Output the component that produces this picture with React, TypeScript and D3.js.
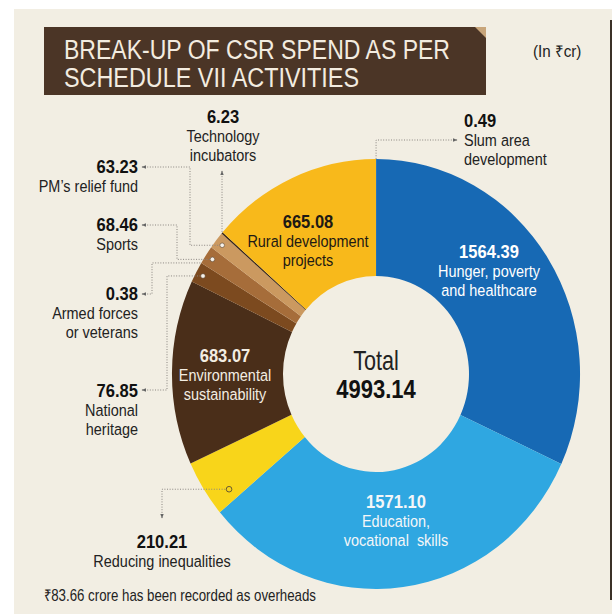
import * as d3 from "d3";
import React from "react";

// Schedule VII activity categories, clockwise from 12 o'clock
const categories = [
  "Slum area development",
  "Hunger, poverty and healthcare",
  "Education, vocational skills",
  "Reducing inequalities",
  "Environmental sustainability",
  "National heritage",
  "Armed forces or veterans",
  "Sports",
  "PM's relief fund",
  "Technology incubators",
  "Rural development projects",
];
const values = [0.49, 1564.39, 1571.1, 210.21, 683.07, 76.85, 0.38, 68.46, 63.23, 6.23, 665.08];
const valueLabels = ["0.49", "1564.39", "1571.10", "210.21", "683.07", "76.85", "0.38", "68.46", "63.23", "6.23", "665.08"];
const labelLines = [
  ["Slum area", "development"],
  ["Hunger, poverty", "and healthcare"],
  ["Education,", "vocational  skills"],
  ["Reducing inequalities"],
  ["Environmental", "sustainability"],
  ["National", "heritage"],
  ["Armed forces", "or veterans"],
  ["Sports"],
  ["PM\u2019s relief fund"],
  ["Technology", "incubators"],
  ["Rural development", "projects"],
];
const sliceColors = [
  "#1769b4", "#1769b4", "#2fa7e1", "#f8d51a", "#4a2e19", "#7c4a1f",
  "#7c4a1f", "#a66d3a", "#cb9960", "#3a2616", "#f8b91b",
];
const titleLines = ["BREAK-UP OF CSR SPEND AS PER", "SCHEDULE VII ACTIVITIES"];
const unitLabel = "(In \u20b9cr)";
const totalCaption = "Total";
const totalValue = "4993.14";
const overheadNote = "\u20b983.66 crore has been recorded as overheads";

const NUM = "'Liberation Sans', Arial, sans-serif";
const LAB = "'Liberation Sans', Arial, sans-serif";

const cx = 376;
const cy = 374;
const outerR = 215;
const innerR = 98;
const squeeze = 0.949; // donut is slightly narrower than tall

type Anchor = "start" | "middle" | "end";

// text squeezed horizontally, the source typeface is a condensed one
function T({
  anchor = "start",
  children,
  fill = "#222",
  k = 0.85,
  size = 17,
  weight = 400,
  x,
  y,
}: {
  anchor?: Anchor;
  children: React.ReactNode;
  fill?: string;
  k?: number;
  size?: number;
  weight?: number;
  x: number;
  y: number;
}) {
  return (
    <text
      fill={fill}
      fontFamily={weight > 400 ? NUM : LAB}
      fontSize={size}
      fontWeight={weight}
      textAnchor={anchor}
      transform={`translate(${x},${y}) scale(${k},1)`}
      style={{ whiteSpace: "pre" }}
    >
      {children}
    </text>
  );
}

export default function App(): React.ReactElement {
  const pie = d3
    .pie<number>()
    .sort(null)
    .value((d) => d)
    .startAngle(0)
    .endAngle(2 * Math.PI);
  const slices = pie(values);
  const arc = d3.arc<d3.PieArcDatum<number>>().innerRadius(innerR).outerRadius(outerR);

  const polar = (angle: number, radius: number): [number, number] => [
    cx + Math.sin(angle) * radius * squeeze,
    cy - Math.cos(angle) * radius,
  ];
  const at = (i: number, f: number) => slices[i].startAngle + f * (slices[i].endAngle - slices[i].startAngle);

  // leader targets
  const slumEdge = polar(at(0, 0.5), outerR);
  const techEdge = polar(at(9, 0.5), outerR);
  const pmDot = polar(at(8, 0.5), 207);
  const sportsDot = polar(at(7, 0.5), 207);
  const armedEdge = polar(at(6, 0.5), outerR);
  const heritageDot = polar(at(5, 0.5), 207);
  const ineqDot = polar(at(3, 0.22), 193);

  const leaders = [
    `M457,140H${slumEdge[0]}V${slumEdge[1]}`,
    `M${techEdge[0]},171V${techEdge[1]}`,
    `M142,167H190V${pmDot[1]}H${pmDot[0]}`,
    `M142,225H177V${sportsDot[1]}H${sportsDot[0]}`,
    `M142,294H152V${armedEdge[1]}H${armedEdge[0]}`,
    `M142,390H167V${heritageDot[1]}H${heritageDot[0]}`,
    `M162,518V${ineqDot[1]}H${ineqDot[0]}`,
  ];

  // outside label blocks: [slice index, x, number baseline, anchor]
  const outside: [number, number, number, Anchor][] = [
    [0, 464, 127, "start"],
    [9, 223, 123, "middle"],
    [8, 138, 173, "end"],
    [7, 138, 231, "end"],
    [6, 138, 300, "end"],
    [5, 138, 397, "end"],
    [3, 162, 548, "middle"],
  ];
  // inside label blocks: [slice index, x, number baseline, colour]
  const inside: [number, number, number, string][] = [
    [10, 308, 228, "#1e1a14"],
    [1, 489, 258, "#ffffff"],
    [2, 396, 508, "#f4f6f8"],
    [4, 225, 362, "#f3ede2"],
  ];

  return (
    <svg
      width={614}
      height={614}
      style={{ display: "block", left: 0, position: "absolute", top: 0 }}
    >
      <defs>
        <marker
          id="arr"
          markerHeight={5}
          markerWidth={5}
          orient="auto-start-reverse"
          refX={4}
          refY={2.5}
          viewBox="0 0 5 5"
        >
          <path d="M0,0.8L4.5,2.5L0,4.2Z" fill="#666" />
        </marker>
      </defs>
      <rect fill="#ffffff" height={614} width={614} />
      <rect fill="#f2eee3" height={605} width={598} x={14} y={9} />
      <line stroke="#3b3128" strokeWidth={2} x1={611} x2={611} y1={20} y2={600} />

      {/* title */}
      <rect fill="#4b3526" height={68} width={442} x={44} y={27} />
      <polygon fill="#c8a57a" points="475,27 486,27 486,38" />
      {titleLines.map((t, i) => (
        <text
          fill="#f3ece0"
          fontFamily={LAB}
          fontSize={27}
          key={t}
          lengthAdjust="spacingAndGlyphs"
          textLength={i === 0 ? 386 : 295}
          x={64}
          y={59 + i * 28}
        >
          {t}
        </text>
      ))}
      <T k={0.95} size={16} x={533} y={57}>
        {unitLabel}
      </T>

      {/* donut */}
      <g transform={`translate(${cx},${cy}) scale(${squeeze},1)`}>
        {slices.map((s, i) => (
          <path d={arc(s) ?? ""} fill={sliceColors[i]} key={categories[i]} />
        ))}
      </g>

      {/* leaders */}
      {leaders.map((d, i) => (
        <path
          d={d}
          fill="none"
          key={`ld-${i}`}
          markerStart="url(#arr)"
          stroke="#8a8580"
          strokeDasharray="1,1.6"
          strokeWidth={1}
        />
      ))}
      {[pmDot, sportsDot, heritageDot].map((p, i) => (
        <circle cx={p[0]} cy={p[1]} fill="#f7f2ea" key={`dot-${i}`} r={2.3} stroke="#5b4634" strokeWidth={0.6} />
      ))}
      <circle cx={ineqDot[0]} cy={ineqDot[1]} fill="#f8d51a" r={2.8} stroke="#6a5a30" strokeWidth={1} />

      {/* outside labels */}
      {outside.map(([i, x, y, anchor]) => (
        <g key={`out-${i}`}>
          <T anchor={anchor} fill="#111" k={0.92} size={18} weight={700} x={x} y={y}>
            {valueLabels[i]}
          </T>
          {labelLines[i].map((line, j) => (
            <T anchor={anchor} key={line} x={x} y={y + 19 + j * 19}>
              {line}
            </T>
          ))}
        </g>
      ))}

      {/* inside labels */}
      {inside.map(([i, x, y, color]) => (
        <g key={`in-${i}`}>
          <T anchor="middle" fill={color} k={0.92} size={18} weight={700} x={x} y={y}>
            {valueLabels[i]}
          </T>
          {labelLines[i].map((line, j) => (
            <T anchor="middle" fill={color} key={line} x={x} y={y + 19 + j * 19}>
              {line}
            </T>
          ))}
        </g>
      ))}

      {/* total */}
      <T anchor="middle" k={0.8} size={27} x={cx} y={370}>
        {totalCaption}
      </T>
      <T anchor="middle" fill="#111" k={0.88} size={25} weight={700} x={cx} y={398}>
        {totalValue}
      </T>

      <T k={0.83} size={16} x={44} y={601}>
        {overheadNote}
      </T>
    </svg>
  );
}
